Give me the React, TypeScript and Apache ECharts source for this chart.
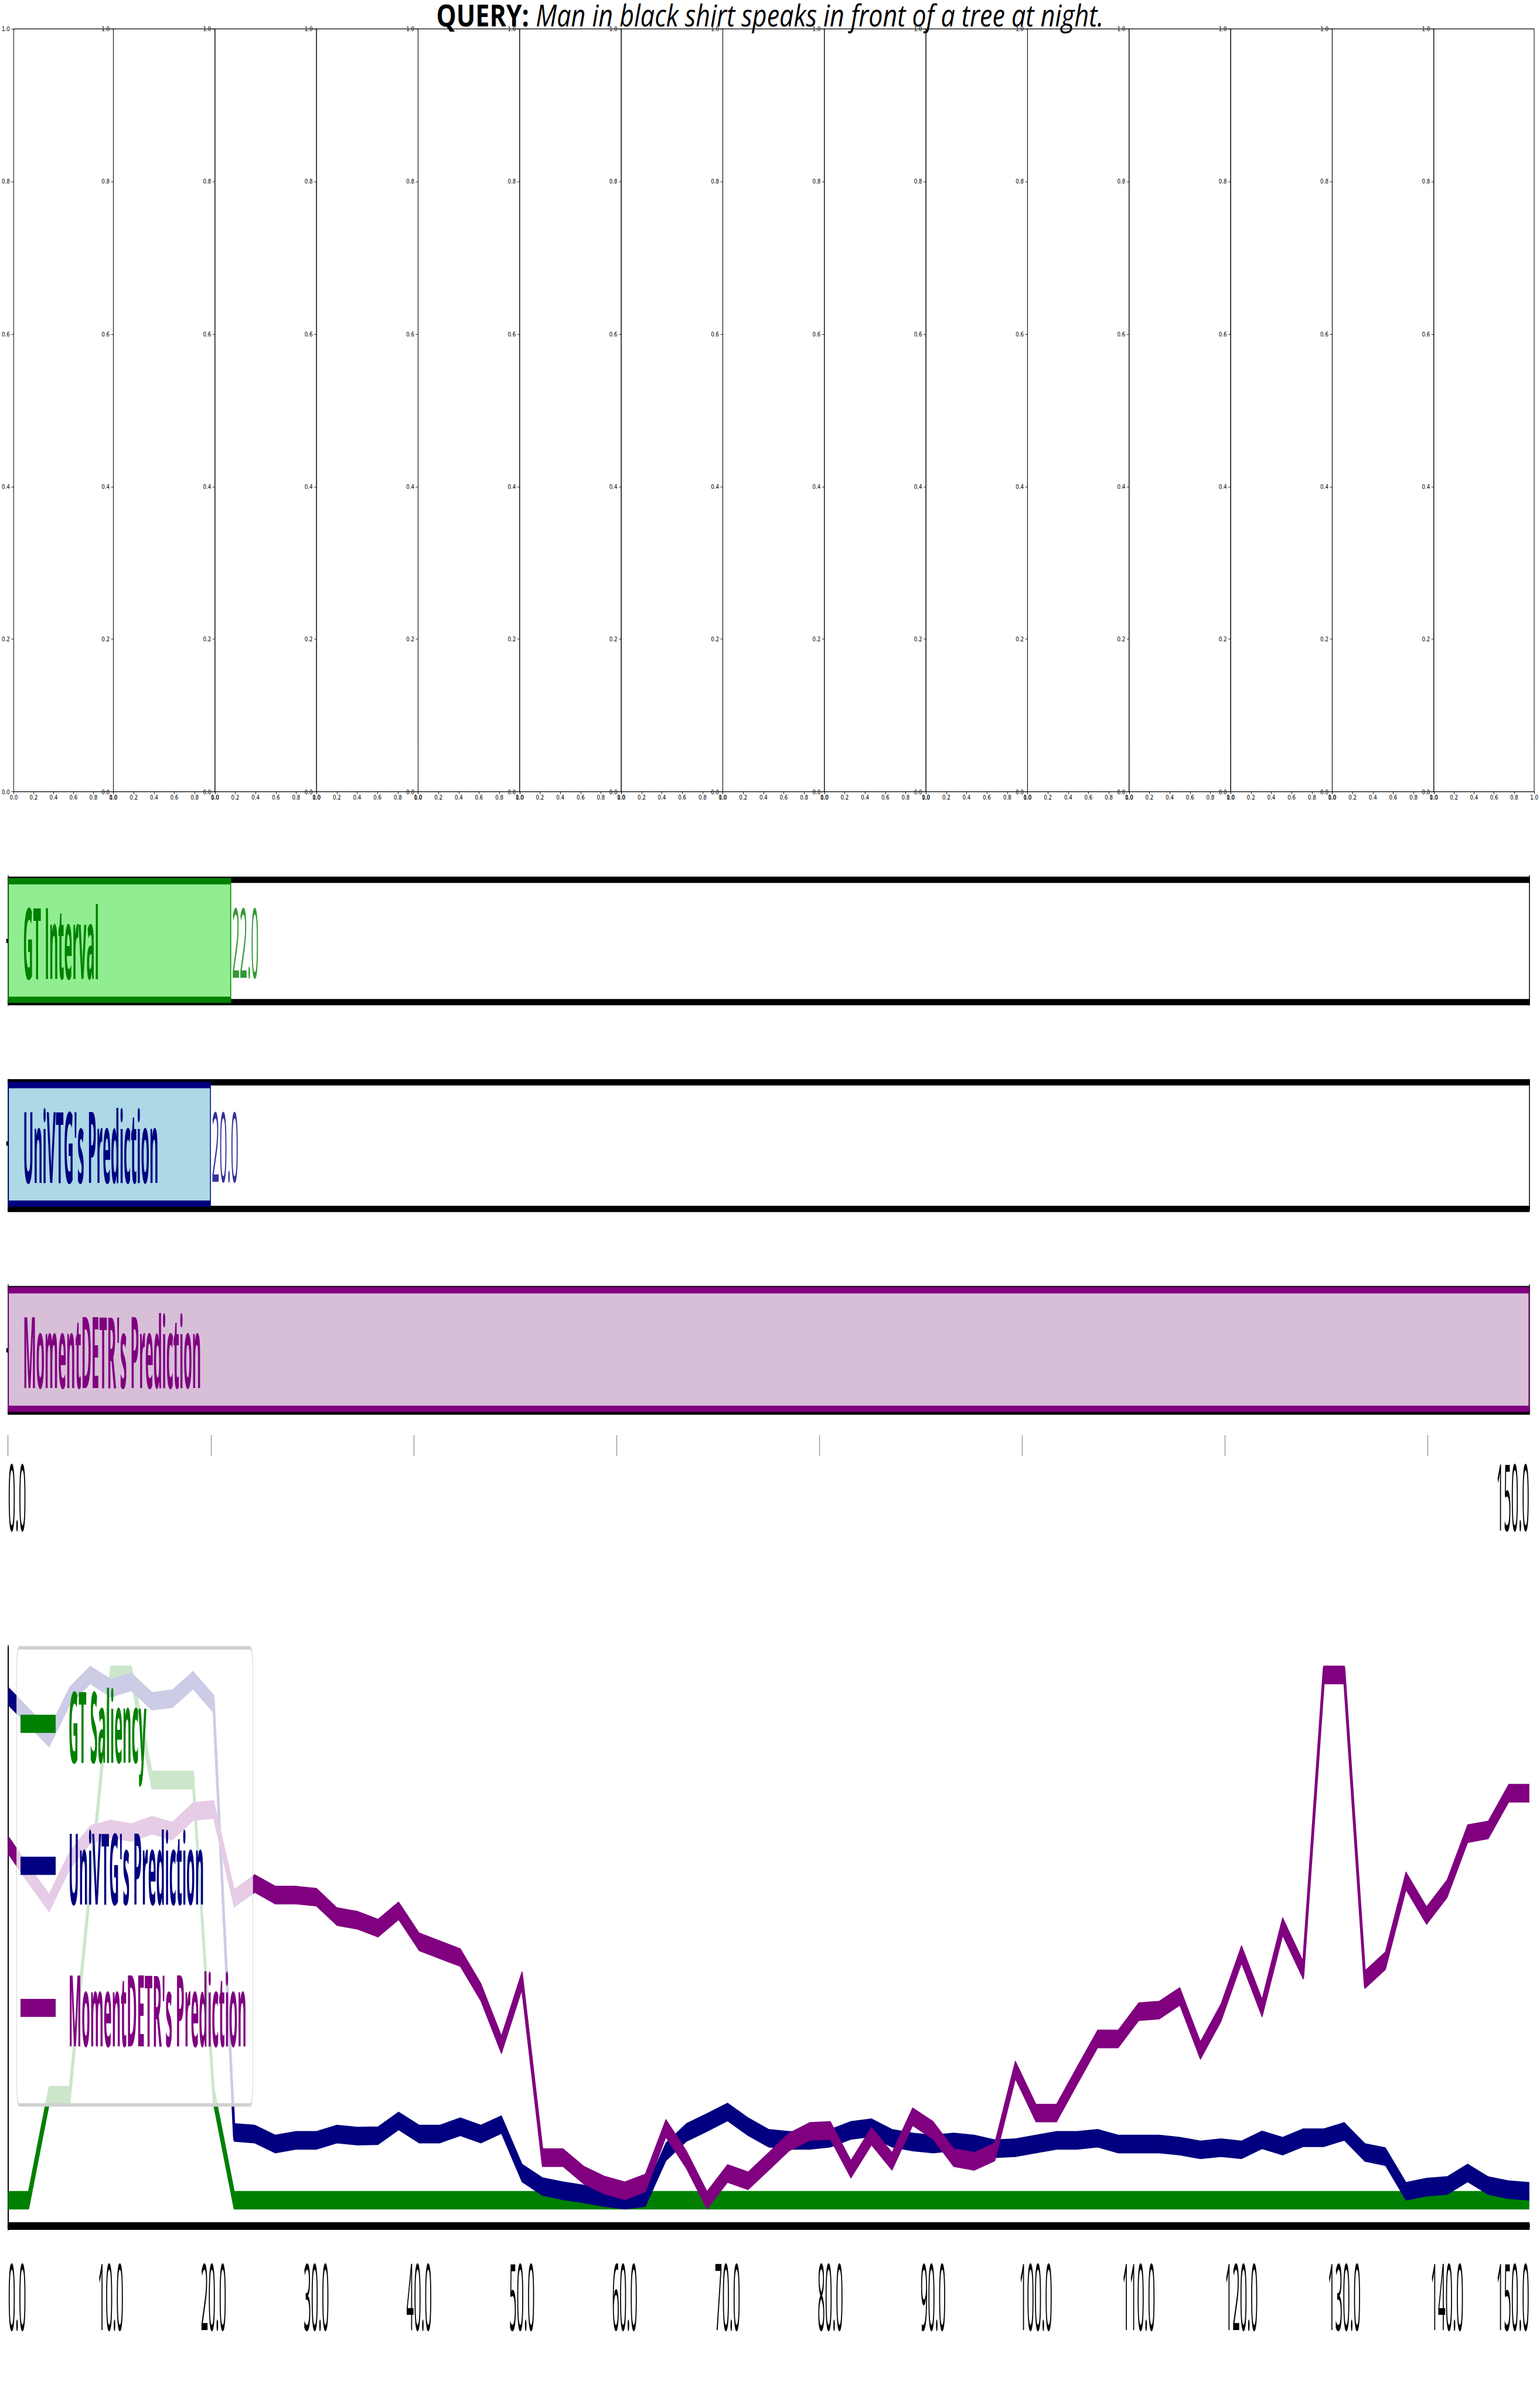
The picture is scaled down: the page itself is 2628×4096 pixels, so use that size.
import React, { useEffect, useRef } from 'react';
import * as echarts from 'echarts';

// ---------------- data ----------------
const titleBold = 'QUERY:';
const titleItalic = 'Man in black shirt speaks in front of a tree at night.';
const frameCount = 15;
const frameTickStep = 0.2;

const intervalNames = ['GT Interval', "UniVTG's Prediction", "MomentDETR's Prediction"];
const intervalStarts = [0, 0, 0];
const intervalEnds = [22, 20, 150];
const intervalShowEnd = [true, true, false];
const intervalAxisTicks = [0, 20, 40, 60, 80, 100, 120, 140];
const intervalAxisLabels = [0, 150];

const clipSeconds = [
  0, 2, 4, 6, 8, 10, 12, 14, 16, 18, 20, 22, 24, 26, 28, 30, 32, 34, 36, 38,
  40, 42, 44, 46, 48, 50, 52, 54, 56, 58, 60, 62, 64, 66, 68, 70, 72, 74, 76, 78,
  80, 82, 84, 86, 88, 90, 92, 94, 96, 98, 100, 102, 104, 106, 108, 110, 112, 114, 116, 118,
  120, 122, 124, 126, 128, 130, 132, 134, 136, 138, 140, 142, 144, 146, 148,
];
const lineTickIndices = [0, 5, 10, 15, 20, 25, 30, 35, 40, 45, 50, 55, 60, 65, 70, 74];
const lineTickLabels = ['0.0', '10.0', '20.0', '30.0', '40.0', '50.0', '60.0', '70.0', '80.0', '90.0', '100.0', '110.0', '120.0', '130.0', '140.0', '150.0'];

const seriesNames = ['GT Saliency', "UniVTG's Prediction", "MomentDETR's Prediction"];
const gtSaliency = [
  0, 0, 0.2, 0.2, 0.6, 1.0, 1.0, 0.8, 0.8, 0.8, 0.2, 0, 0, 0, 0, 0, 0, 0, 0, 0,
  0, 0, 0, 0, 0, 0, 0, 0, 0, 0, 0, 0, 0, 0, 0, 0, 0, 0, 0, 0,
  0, 0, 0, 0, 0, 0, 0, 0, 0, 0, 0, 0, 0, 0, 0, 0, 0, 0, 0, 0,
  0, 0, 0, 0, 0, 0, 0, 0, 0, 0, 0, 0, 0, 0, 0,
];
const univtgSaliency = [
  0.96, 0.92, 0.88, 0.96, 1.0, 0.975, 0.987, 0.95, 0.955, 0.99, 0.945, 0.129, 0.126, 0.107, 0.114, 0.114, 0.126, 0.122, 0.123, 0.151,
  0.126, 0.126, 0.14, 0.126, 0.144, 0.052, 0.026, 0.018, 0.012, 0.005, 0.0, 0.005, 0.092, 0.129, 0.148, 0.168, 0.14, 0.118, 0.114, 0.114,
  0.118, 0.133, 0.138, 0.118, 0.111, 0.107, 0.111, 0.107, 0.098, 0.1, 0.107, 0.114, 0.114, 0.118, 0.107, 0.107, 0.107, 0.103, 0.096, 0.1,
  0.096, 0.115, 0.103, 0.119, 0.119, 0.131, 0.091, 0.083, 0.017, 0.025, 0.028, 0.052, 0.028, 0.02, 0.017,
];
const momentdetrSaliency = [
  0.677, 0.62, 0.566, 0.647, 0.696, 0.707, 0.7, 0.714, 0.703, 0.74, 0.744, 0.575, 0.603, 0.581, 0.581, 0.577, 0.54, 0.533, 0.518, 0.551,
  0.492, 0.477, 0.462, 0.396, 0.296, 0.418, 0.081, 0.081, 0.048, 0.029, 0.018, 0.033, 0.137, 0.077, 0.0, 0.051, 0.037, 0.074, 0.111, 0.131,
  0.133, 0.059, 0.122, 0.074, 0.159, 0.133, 0.081, 0.074, 0.092, 0.248, 0.166, 0.166, 0.237, 0.307, 0.307, 0.359, 0.362, 0.388, 0.285, 0.357,
  0.468, 0.366, 0.521, 0.438, 1.0, 1.0, 0.42, 0.456, 0.608, 0.542, 0.593, 0.698, 0.705, 0.775, 0.775,
];

// ---------------- layout / style ----------------
const W = 2628;
const H = 4096;
const FONT = '"Open Sans", "Noto Sans", sans-serif';
const TICK_FONT = '"DejaVu Sans", sans-serif';

const TOP_K = 1.2;
const TOP_PRE_H = 1167;
const BOT_TOP = 1400;
const BOT_K = 7.2;
const BOT_PRE_H = 375;

const edgeColors = ['#008000', '#000080', '#800080'];
const fillColors = ['#90ee90', '#add8e6', '#d8bfd8'];

function buildTop(): any {
  const fl = 20.15;
  const fw = 173.33;
  const grids: any[] = [];
  const xAxes: any[] = [];
  const yAxes: any[] = [];
  const series: any[] = [];
  for (let i = 0; i < frameCount; i++) {
    grids.push({
      left: fl + i * fw, top: 41.2, width: fw, height: 1084.4,
      show: true, borderColor: '#000', borderWidth: 1, backgroundColor: 'rgba(0,0,0,0)',
    });
    const ax = {
      type: 'value', gridIndex: i, min: 0, max: 1, interval: frameTickStep,
      axisLine: { show: false },
      splitLine: { show: false },
    };
    xAxes.push({
      ...ax,
      axisTick: { show: true, length: 3.25, lineStyle: { color: '#000', width: 0.8 } },
      axisLabel: { show: true, fontSize: 8.7, fontFamily: TICK_FONT, color: '#000', margin: 3.5, formatter: (v: number) => v.toFixed(1) },
    });
    yAxes.push({
      ...ax,
      axisTick: { show: true, length: 3.9, lineStyle: { color: '#000', width: 0.8 } },
      axisLabel: { show: true, fontSize: 8.7, fontFamily: TICK_FONT, color: '#000', margin: 6.5, formatter: (v: number) => v.toFixed(1) },
    });
    series.push({ type: 'line', xAxisIndex: i, yAxisIndex: i, data: [], silent: true });
  }
  return {
    animation: false,
    backgroundColor: '#fff',
    title: {
      text: `{b|${titleBold}}{s| }{i|${titleItalic}}`,
      left: 'center',
      top: 0,
      padding: 0,
      textStyle: {
        fontSize: 43, fontFamily: FONT, color: '#000', lineHeight: 42, fontWeight: 'normal',
        rich: {
          b: { fontSize: 43, fontFamily: FONT, fontWeight: 'bold', color: '#000', lineHeight: 42 },
          s: { fontSize: 43, fontFamily: FONT, fontWeight: 'normal', color: '#000', lineHeight: 42 },
          i: { fontSize: 43, fontFamily: FONT, fontStyle: 'italic', fontWeight: 'normal', color: '#000', lineHeight: 42 },
        },
      },
    },
    grid: grids,
    xAxis: xAxes,
    yAxis: yAxes,
    series,
  };
}

function buildBottom(): any {
  const X0 = 13.7;
  const X1 = 2609.8;
  const GW = X1 - X0;
  const rowTops = [13.6, 61.9, 110.5];
  const rowH = 29.6;
  const grids: any[] = rowTops.map((t) => ({ left: X0, width: GW, top: t, height: rowH }));
  grids.push({ left: X0, width: GW, top: 196.2, height: 136.9 });
  grids.push({ left: X0, width: GW, top: rowTops[2] + rowH + 5.5, height: 1 });

  const rowX = (gi: number, pos: string) => ({
    type: 'value', gridIndex: gi, position: pos, min: 0, max: 150,
    axisLine: { show: true, onZero: false, lineStyle: { color: '#000', width: 1.5 } },
    axisTick: { show: false }, axisLabel: { show: false }, splitLine: { show: false },
  });
  const xAxes: any[] = [
    rowX(0, 'bottom'), rowX(1, 'bottom'), rowX(2, 'bottom'),
    rowX(0, 'top'), rowX(1, 'top'), rowX(2, 'top'),
    {
      type: 'value', gridIndex: 4, position: 'top', min: 0, max: 150,
      axisLine: { show: false, onZero: false },
      axisTick: { show: true, inside: true, customValues: intervalAxisTicks, length: 5, lineStyle: { color: '#8a8a8a', width: 1.2 } },
      axisLabel: {
        show: true, inside: true, customValues: intervalAxisLabels, formatter: (v: number) => v.toFixed(1),
        fontSize: 22, fontFamily: FONT, color: '#000', margin: 3, verticalAlign: 'top',
        alignMinLabel: 'left', alignMaxLabel: 'right',
      },
      splitLine: { show: false },
    },
    {
      type: 'category', gridIndex: 3, data: clipSeconds.map(String), boundaryGap: false,
      axisLine: { show: true, onZero: false, lineStyle: { color: '#000', width: 1.8 } },
      axisTick: { show: false },
      axisLabel: {
        show: true,
        interval: (index: number) => lineTickIndices.indexOf(index) >= 0,
        formatter: (_v: string, index: number) => {
          const k = lineTickIndices.indexOf(index);
          return k >= 0 ? lineTickLabels[k] : '';
        },
        fontSize: 22, fontFamily: FONT, color: '#000', margin: 5,
        alignMinLabel: 'left', alignMaxLabel: 'right',
      },
      splitLine: { show: false },
    },
  ];

  const yAxes: any[] = [];
  for (let r = 0; r < 3; r++) {
    yAxes.push({
      type: 'category', gridIndex: r, position: 'left', data: [intervalNames[r]],
      axisLine: { show: true, onZero: false, lineStyle: { color: '#000', width: 1.5 } },
      axisTick: { show: true, alignWithLabel: true, length: 3, lineStyle: { color: '#000', width: 1 } },
      axisLabel: { show: false }, splitLine: { show: false },
    });
  }
  for (let r = 0; r < 3; r++) {
    yAxes.push({
      type: 'category', gridIndex: r, position: 'right', data: [intervalNames[r]],
      axisLine: { show: true, onZero: false, lineStyle: { color: '#000', width: 1.5 } },
      axisTick: { show: false }, axisLabel: { show: false }, splitLine: { show: false },
    });
  }
  yAxes.push({
    type: 'value', gridIndex: 3, min: -0.05, max: 1.05,
    axisLine: { show: true, onZero: false, lineStyle: { color: '#000', width: 2 } },
    axisTick: { show: false }, axisLabel: { show: false }, splitLine: { show: false },
  });
  yAxes.push({
    type: 'value', gridIndex: 4, min: 0, max: 1, show: false,
  });

  const series: any[] = [];
  for (let r = 0; r < 3; r++) {
    series.push({
      type: 'bar', xAxisIndex: r, yAxisIndex: r, stack: 'row' + r, barWidth: '100%', silent: true,
      data: [intervalStarts[r]], itemStyle: { color: 'rgba(0,0,0,0)' },
    });
    series.push({
      type: 'bar', xAxisIndex: r, yAxisIndex: r, stack: 'row' + r, barWidth: '100%', silent: true,
      data: [intervalEnds[r] - intervalStarts[r]],
      itemStyle: { color: fillColors[r], borderColor: edgeColors[r], borderWidth: 1.5 },
      label: {
        show: true, position: 'insideLeft', distance: 25.7, formatter: intervalNames[r],
        fontSize: 23.5, fontWeight: 'bold', fontFamily: FONT, color: edgeColors[r],
      },
    });
    if (intervalShowEnd[r]) {
      series.push({
        type: 'scatter', xAxisIndex: r, yAxisIndex: r, silent: true, symbolSize: 1,
        itemStyle: { color: 'rgba(0,0,0,0)' },
        data: [[intervalEnds[r], 0]],
        label: {
          show: true, position: 'right', distance: 1, formatter: intervalEnds[r].toFixed(1),
          fontSize: 23, fontFamily: FONT, color: edgeColors[r],
        },
      });
    }
  }
  const lineData = [gtSaliency, univtgSaliency, momentdetrSaliency];
  for (let s = 0; s < 3; s++) {
    series.push({
      type: 'line', name: seriesNames[s], xAxisIndex: 7, yAxisIndex: 6,
      data: lineData[s], showSymbol: false, symbol: 'none', color: edgeColors[s],
      lineStyle: { color: edgeColors[s], width: 4.4, join: 'round' },
      silent: true,
    });
  }

  return {
    animation: false,
    backgroundColor: 'rgba(0,0,0,0)',
    grid: grids,
    xAxis: xAxes,
    yAxis: yAxes,
    series,
    legend: {
      show: true,
      orient: 'vertical',
      left: 28.6,
      top: 196,
      icon: 'rect',
      itemWidth: 60,
      itemHeight: 4.3,
      itemGap: 9.65,
      padding: [6, 10.4, 11, 6.4],
      backgroundColor: 'rgba(255,255,255,0.8)',
      borderColor: '#d0d0d0',
      borderWidth: 0.8,
      borderRadius: 4,
      selectedMode: false,
      textStyle: { fontSize: 23.5, fontWeight: 'bold', fontFamily: FONT, lineHeight: 24, padding: [0, 0, 0, 17] },
      data: seriesNames.map((n, s) => ({ name: n, textStyle: { color: edgeColors[s] } })),
    },
  };
}

export default function App() {
  const topRef = useRef<HTMLDivElement>(null);
  const botRef = useRef<HTMLDivElement>(null);
  useEffect(() => {
    const top = echarts.init(topRef.current as HTMLDivElement, null, { renderer: 'svg', width: W, height: TOP_PRE_H });
    top.setOption(buildTop());
    const bot = echarts.init(botRef.current as HTMLDivElement, null, { renderer: 'svg', width: W, height: BOT_PRE_H });
    bot.setOption(buildBottom());
    return () => {
      top.dispose();
      bot.dispose();
    };
  }, []);
  return (
    <div style={{ position: 'absolute', left: 0, top: 0, width: W, height: H, overflow: 'hidden', background: '#fff' }}>
      <div
        ref={topRef}
        style={{ position: 'absolute', left: 0, top: 0, width: W, height: TOP_PRE_H, transform: `scaleY(${TOP_K})`, transformOrigin: '0 0' }}
      />
      <div
        ref={botRef}
        style={{ position: 'absolute', left: 0, top: BOT_TOP, width: W, height: BOT_PRE_H, transform: `scaleY(${BOT_K})`, transformOrigin: '0 0' }}
      />
    </div>
  );
}
